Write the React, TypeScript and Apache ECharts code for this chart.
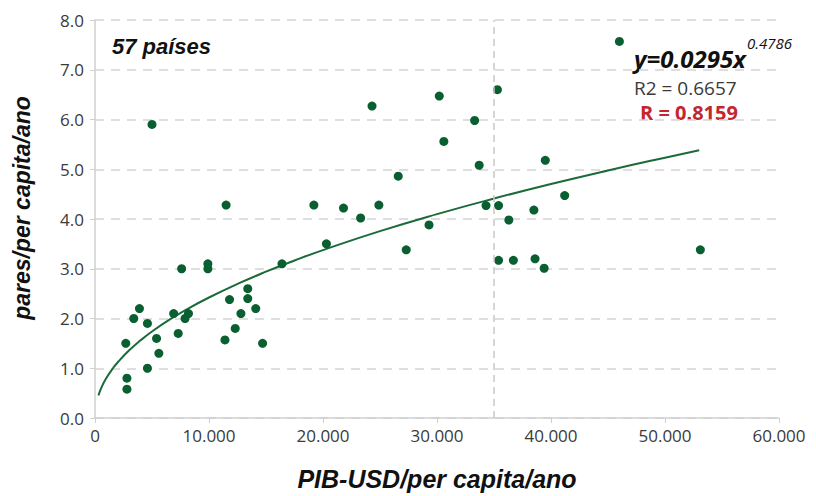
import React, { useEffect, useRef } from "react";
import * as echarts from "echarts";

// GDP per capita (USD) and pairs per capita per year
const gdp = [
  2700, 2800, 2800, 3400, 3900, 4600, 4600, 5400, 5600, 6900,
  7300, 7900, 8200, 7600, 9900, 9900, 11400, 11800, 12300, 12800,
  13400, 13400, 14100, 14700, 16400, 20300, 11500, 19200, 5000, 24300,
  30200, 35300, 33300, 30600, 33700, 39500, 26600, 21800, 23300, 24900,
  34300, 35400, 38500, 41200, 29300, 27300, 36300, 35400, 36700, 38600,
  39400, 46000, 53100,
];
const pairs = [
  1.5, 0.8, 0.58, 2.0, 2.2, 1.9, 1.0, 1.6, 1.3, 2.1,
  1.7, 2.0, 2.1, 3.0, 3.1, 3.0, 1.57, 2.38, 1.8, 2.1,
  2.6, 2.4, 2.2, 1.5, 3.1, 3.5, 4.28, 4.28, 5.9, 6.27,
  6.47, 6.6, 5.98, 5.56, 5.08, 5.18, 4.86, 4.22, 4.02, 4.28,
  4.27, 4.27, 4.18, 4.47, 3.88, 3.38, 3.98, 3.17, 3.17, 3.2,
  3.01, 7.57, 3.38,
];

// Power trendline printed on the chart: y = a * x^b
const trendA = 0.0295;
const trendB = 0.4786;
const trendX = [300, 600, 1000, 1500, 2000, 3000, 4000, 5000, 6500, 8000, 10000, 12500, 15000, 17500, 20000, 25000, 30000, 35000, 40000, 45000, 50000, 53000];

const refLineX = 35000;

export default function App() {
  const ref = useRef<HTMLDivElement>(null);
  useEffect(() => {
    if (!ref.current) return;
    const chart = echarts.init(ref.current, null, { renderer: "svg" });
    const labelFont = "'Open Sans', 'Noto Sans', sans-serif";
    const narrow = "'Liberation Sans Narrow', 'Arial Narrow', 'Liberation Sans', sans-serif";
    chart.setOption({
      animation: false,
      backgroundColor: "#ffffff",
      grid: { left: 95, right: 37, top: 20, bottom: 78, outerBoundsMode: "none", containLabel: false },
      xAxis: {
        type: "value",
        min: 0,
        max: 60000,
        interval: 10000,
        axisLine: { show: true, lineStyle: { color: "#d0d0d0", width: 1.5 } },
        axisTick: { show: true, length: 5, lineStyle: { color: "#d0d0d0" } },
        splitLine: { show: false },
        axisLabel: {
          color: "#3a3a3a",
          fontSize: 17,
          fontFamily: labelFont,
          margin: 9,
          formatter: (v: number) => (v === 0 ? "0" : (v / 1000).toFixed(0) + ".000"),
        },
        name: "PIB-USD/per capita/ano",
        nameLocation: "middle",
        nameGap: 48,
        nameTextStyle: { fontSize: 25, fontWeight: "bold", fontStyle: "italic", fontFamily: narrow, color: "#111" },
      },
      yAxis: {
        type: "value",
        min: 0,
        max: 8,
        interval: 1,
        axisLine: { show: true, lineStyle: { color: "#d0d0d0", width: 1.5 } },
        axisTick: { show: true, length: 5, lineStyle: { color: "#d0d0d0" } },
        splitLine: { show: true, lineStyle: { color: "#d4d4d4", width: 1.5, type: [9, 7] } },
        axisLabel: {
          color: "#3a3a3a",
          fontSize: 17,
          fontFamily: labelFont,
          margin: 11,
          formatter: (v: number) => v.toFixed(1),
        },
      },
      series: [
        {
          type: "line",
          data: trendX.map((x) => [x, trendA * Math.pow(x, trendB)]),
          smooth: true,
          showSymbol: false,
          lineStyle: { color: "#1b6a3a", width: 2 },
          z: 2,
          markLine: {
            silent: true,
            symbol: "none",
            label: { show: false },
            lineStyle: { color: "#c8c8c8", type: [7, 5], width: 1.5 },
            data: [{ xAxis: refLineX }],
          },
        },
        {
          type: "scatter",
          data: gdp.map((x, i) => [x, pairs[i]]),
          symbol: "circle",
          symbolSize: 9,
          itemStyle: { color: "#0a5f30", opacity: 1 },
          z: 3,
        },
      ],
      graphic: [
        {
          type: "text",
          x: 22,
          y: 208,
          rotation: Math.PI / 2,
          style: {
            text: "pares/per capita/ano",
            fontSize: 23,
            fontWeight: "bold",
            fontStyle: "italic",
            fontFamily: narrow,
            fill: "#111",
            align: "center",
            verticalAlign: "middle",
          },
        },
        {
          type: "text",
          left: 112,
          top: 35,
          style: { text: "57 países", fontSize: 22, fontWeight: "bold", fontStyle: "italic", fontFamily: narrow, fill: "#111" },
        },
        {
          type: "text",
          left: 634,
          top: 46,
          style: { text: "y=0.0295x", fontSize: 24, fontWeight: "bold", fontStyle: "italic", fontFamily: "'Open Sans', sans-serif", fill: "#111" },
        },
        {
          type: "text",
          left: 747,
          top: 35,
          style: { text: "0.4786", fontSize: 15, fontStyle: "italic", fontFamily: "'Open Sans', sans-serif", fill: "#111" },
        },
        {
          type: "text",
          left: 634,
          top: 78,
          style: { text: "R2 = 0.6657", fontSize: 19, fontFamily: labelFont, fill: "#3a3a3a" },
        },
        {
          type: "text",
          left: 640,
          top: 102,
          style: { text: "R = 0.8159", fontSize: 20, fontWeight: "bold", fontFamily: labelFont, fill: "#c4262e" },
        },
      ],
    });
    return () => chart.dispose();
  }, []);
  return <div ref={ref} style={{ width: 816, height: 496, position: "absolute", left: 0, top: 0 }} />;
}
